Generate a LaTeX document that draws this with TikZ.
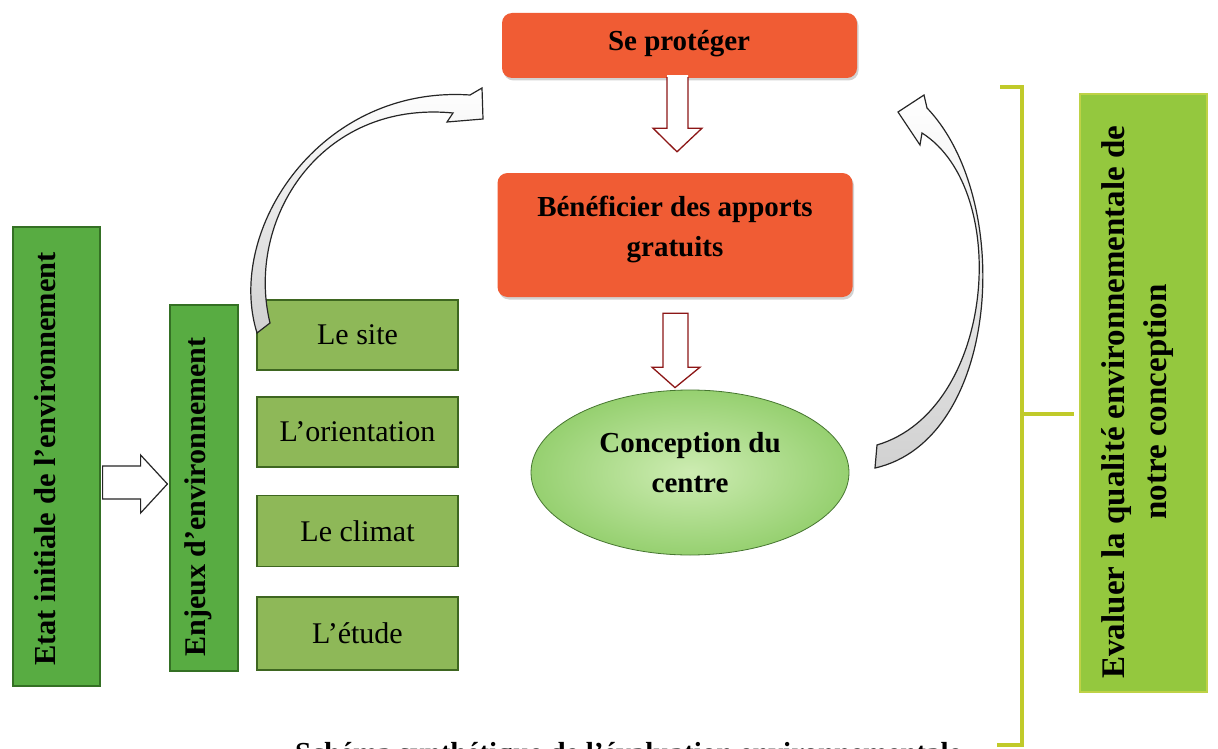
\documentclass[tikz,border=0pt]{standalone}
\usepackage{fontspec}
\setmainfont{Liberation Serif}
\newfontfamily\bfx{Liberation Serif}
\usetikzlibrary{calc,shapes.geometric,shadows}
\definecolor{EnvFill}{RGB}{88,172,66}
\definecolor{EnvLine}{RGB}{52,112,36}
\definecolor{SubFill}{RGB}{142,184,88}
\definecolor{SubLine}{RGB}{62,102,32}
\definecolor{EvalFill}{RGB}{148,200,62}
\definecolor{EvalLine}{RGB}{190,210,70}
\definecolor{OrFill}{RGB}{240,92,52}
\definecolor{ElIn}{RGB}{205,236,178}
\definecolor{ElOut}{RGB}{150,208,112}
\definecolor{ElLine}{RGB}{70,118,48}
\definecolor{BrkCol}{RGB}{192,202,42}
\definecolor{RedLine}{RGB}{140,22,22}
\tikzset{
  envbox/.style={draw=EnvLine, fill=EnvFill, line width=1.2pt, inner sep=0pt},
  subbox/.style={draw=SubLine, fill=SubFill, line width=1.4pt, inner sep=0pt,
    minimum width=201, font=\fontsize{30}{36}\selectfont},
  evalbox/.style={draw=EvalLine, fill=EvalFill, line width=1.5pt, inner sep=0pt},
  orbox/.style={fill=OrFill, rounded corners=10pt, inner sep=0pt,
    drop shadow={shadow xshift=1.5pt, shadow yshift=-2.5pt, opacity=0.35}},
  bigbold/.style={font=\bfx\bfseries\fontsize{29}{40}\selectfont, align=center},
  rottext/.style={rotate=90, align=center},
  hollowred/.style={draw=RedLine, fill=white, line width=1.3pt, line join=miter},
  hollowblk/.style={draw=black!85, fill=white, line width=1.2pt, line join=miter},
  curvy/.style={draw=black!85, line width=1.2pt, top color=white, bottom color=black!18},
  bracket/.style={draw=BrkCol, line width=4pt}
}
\begin{document}
\begin{tikzpicture}[x=1pt,y=-1pt]
\useasboundingbox (0,0) rectangle (1218,749);
\clip (0,0) rectangle (1218,749);
\fill[white] (0,0) rectangle (1218,749);

% left column
\node[envbox, minimum width=87, minimum height=459] (etat) at (56.5,456.5) {};
\node[rottext, font=\bfx\bfseries\fontsize{30.5}{34}\selectfont] (etattxt) at (45,459) {Etat initiale de l’environnement};
\node[envbox, minimum width=68, minimum height=366] (enjeux) at (204,488) {};
\node[rottext, font=\bfx\bfseries\fontsize{30}{34}\selectfont] (enjeuxtxt) at (198,497) {Enjeux d’environnement};

\node[subbox, minimum height=70] (site) at (357.5,335) {Le site};
\node[subbox, minimum height=70] (orient) at (357.5,432) {L’orientation};
\node[subbox, minimum height=71] (climat) at (357.5,531) {Le climat};
\node[subbox, minimum height=73] (etude) at (357.5,633.5) {L’étude};

% arrow etat -> enjeux
\draw[hollowblk] ($(etat.east)+(2,9.5)$) -- ($(etat.east)+(40,9.5)$) -- ($(etat.east)+(40,-1.5)$)
  -- ($(enjeux.west)+(-2,-4)$) -- ($(etat.east)+(40,56.5)$) -- ($(etat.east)+(40,42.5)$)
  -- ($(etat.east)+(2,42.5)$) -- cycle;

% centre column
\node[orbox, minimum width=355, minimum height=65] (sp) at (679.5,45.5) {};
\node[bigbold] (sptxt) at (679,44) {Se protéger};
\node[orbox, minimum width=355, minimum height=124] (bf) at (675,235) {};
\node[bigbold] (bftxt) at (675,229) {Bénéficier des apports\\gratuits};
\node[ellipse, draw=ElLine, line width=0.8pt, inner color=ElIn, outer color=ElOut,
      minimum width=318, minimum height=165, inner sep=0pt] (conc) at (690,472.5) {};
\node[bigbold] (conctxt) at (690,463) {Conception du\\centre};

% down arrows
\fill[white] ($(sp.south)+(-12.5,-3)$) -- ($(sp.south)+(8.5,-3)$) -- ($(sp.south)+(8.5,50)$)
  -- ($(sp.south)+(22.5,50)$) -- ($(bf.north)+(2,-21)$) -- ($(sp.south)+(-26.5,50)$)
  -- ($(sp.south)+(-12.5,50)$) -- cycle;
\draw[hollowred, fill=none] ($(sp.south)+(-12.5,-1)$) -- ($(sp.south)+(-12.5,50)$)
  -- ($(sp.south)+(-26.5,50)$) -- ($(bf.north)+(2,-21)$) -- ($(sp.south)+(22.5,50)$)
  -- ($(sp.south)+(8.5,50)$) -- ($(sp.south)+(8.5,-1)$);
\draw[hollowred] ($(bf.south)+(-12,16)$) -- ($(bf.south)+(13,16)$) -- ($(bf.south)+(13,70)$)
  -- ($(bf.south)+(25,70)$) -- ($(conc.north)+(-15,-2)$) -- ($(bf.south)+(-23,70)$)
  -- ($(bf.south)+(-12,70)$) -- cycle;

% curved arrows
\draw[curvy] (257,333) .. controls (225,230) and (320,85) .. (470,95) -- (482,88) -- (483,119)
  -- (447,122) -- (453,113) .. controls (320,100) and (245,220) .. (270,323) -- cycle;
\draw[curvy] (875,468) .. controls (1000,440) and (1015,200) .. (927,108) -- (924,95) -- (898,112)
  -- (920,145) -- (922,133) .. controls (1012,190) and (995,410) .. (877,445) -- cycle;

% right box and bracket
\node[evalbox, minimum width=127, minimum height=598] (eval) at (1143.5,393) {};
\node[rottext, font=\bfx\bfseries\fontsize{33}{42}\selectfont] (evaltxt) at (1138,402)
  {Evaluer la qualité environnementale de\\notre conception};
\coordinate (brtop) at (1000,87);
\coordinate (brbot) at (997,745);
\coordinate (brmid) at (1022,414);
\draw[bracket] (brtop) -- (1022,87) -- (1022,745) -- (brbot);
\draw[bracket] (brmid) -- ($(eval.west |- brmid)+(-5,0)$);

% caption (cut at the bottom edge)
\node[anchor=base east, font=\bfx\bfseries\fontsize{29}{30}\selectfont] (cap) at (965,762)
  {Schéma synthétique de l’évaluation environnementale};
\end{tikzpicture}
\end{document}
